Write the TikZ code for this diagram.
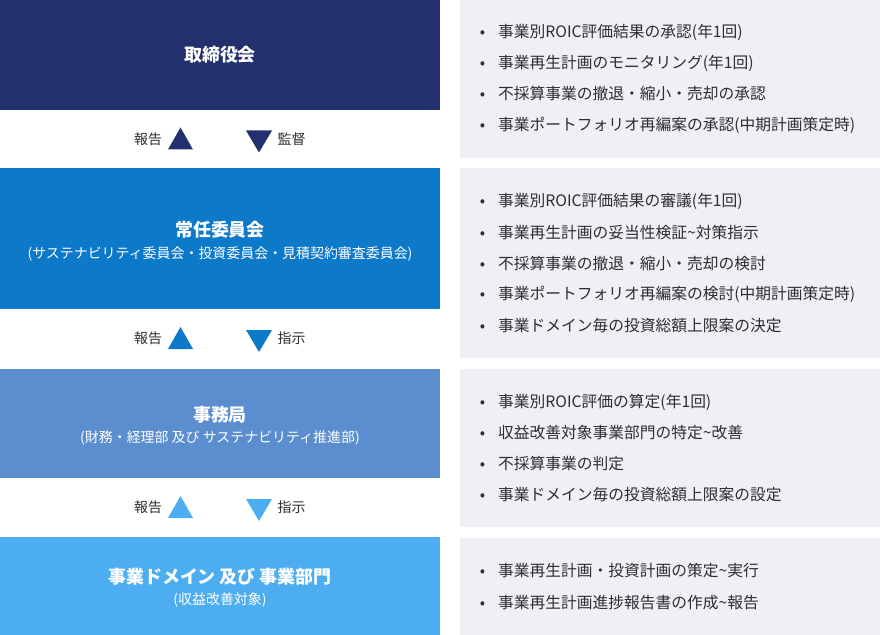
\documentclass[tikz,border=0pt]{standalone}
\usepackage{fontspec}
\setmainfont{Noto Sans CJK JP}
\definecolor{boardblue}{HTML}{22306E}
\definecolor{standblue}{HTML}{0D79C9}
\definecolor{officeblue}{HTML}{5B8ECF}
\definecolor{unitblue}{HTML}{4DADF1}
\definecolor{panelgray}{HTML}{EEF0F6}
\definecolor{textgray}{HTML}{2E2E2E}
\tikzset{
  title/.style={text=white,inner sep=0pt,font=\fontsize{18}{22}\selectfont\bfseries},
  subtitle/.style={text=white,inner sep=0pt,font=\fontsize{14}{16}\selectfont},
  item/.style={anchor=west,text=textgray,inner sep=0pt,font=\fontsize{15.8}{18}\selectfont},
  flow/.style={text=textgray,inner sep=0pt,font=\fontsize{14}{16}\selectfont},
}
\newcommand{\itm}{\llap{\textbullet\hspace{13bp}}}
\begin{document}
\begin{tikzpicture}[x=1bp,y=-1bp]
\useasboundingbox (0,0) rectangle (880,635);
\foreach \a/\b/\c in {0/110/boardblue,168/309/standblue,369/478/officeblue,537/635/unitblue}
  \fill[\c] (0,\a) rectangle (440,\b);
\foreach \a/\b in {0/158,168/358,369/527,538/635}
  \fill[panelgray] (460,\a) rectangle (880,\b);
\node[title] (board) at (220,55) {取締役会};
\node[title] (stand) at (220,230) {常任委員会};
\node[subtitle] (standsub) at (220,254) {(サステナビリティ委員会・投資委員会・見積契約審査委員会)};
\node[title] (office) at (220,415) {事務局};
\node[subtitle] (officesub) at (220,438) {(財務・経理部 及び サステナビリティ推進部)};
\node[title] (unit) at (220,577) {事業ドメイン 及び 事業部門};
\node[subtitle] (unitsub) at (220,600) {(収益改善対象)};
\foreach \y/\c/\w [count=\i] in {139/boardblue/監督,338.5/standblue/指示,507.5/unitblue/指示} {
  \node[flow] (report\i) at (148,\y) {報告};
  \fill[\c] (168,{\y+10.5}) -- (193,{\y+10.5}) -- (180.5,{\y-11.5}) -- cycle;
  \fill[\c] (246,{\y-8.5}) -- (272,{\y-8.5}) -- (259,{\y+13.5}) -- cycle;
  \node[flow] (order\i) at (291.5,\y) {\w};
}
\foreach \t [count=\i] in {事業別ROIC評価結果の承認(年1回),事業再生計画のモニタリング(年1回),不採算事業の撤退・縮小・売却の承認,事業ポートフォリオ再編案の承認(中期計画策定時)}
  \node[item] (boarditem\i) at (498,{32+31*(\i-1)}) {\itm\t};
\foreach \t [count=\i] in {事業別ROIC評価結果の審議(年1回),事業再生計画の妥当性検証\textasciitilde 対策指示,不採算事業の撤退・縮小・売却の検討,事業ポートフォリオ再編案の検討(中期計画策定時),事業ドメイン毎の投資総額上限案の決定}
  \node[item] (standitem\i) at (498,{201+31.25*(\i-1)}) {\itm\t};
\foreach \t [count=\i] in {事業別ROIC評価の算定(年1回),収益改善対象事業部門の特定\textasciitilde 改善,不採算事業の判定,事業ドメイン毎の投資総額上限案の設定}
  \node[item] (officeitem\i) at (498,{402+31*(\i-1)}) {\itm\t};
\foreach \t [count=\i] in {事業再生計画・投資計画の策定\textasciitilde 実行,事業再生計画進捗報告書の作成\textasciitilde 報告}
  \node[item] (unititem\i) at (498,{571+32*(\i-1)}) {\itm\t};
\end{tikzpicture}
\end{document}
